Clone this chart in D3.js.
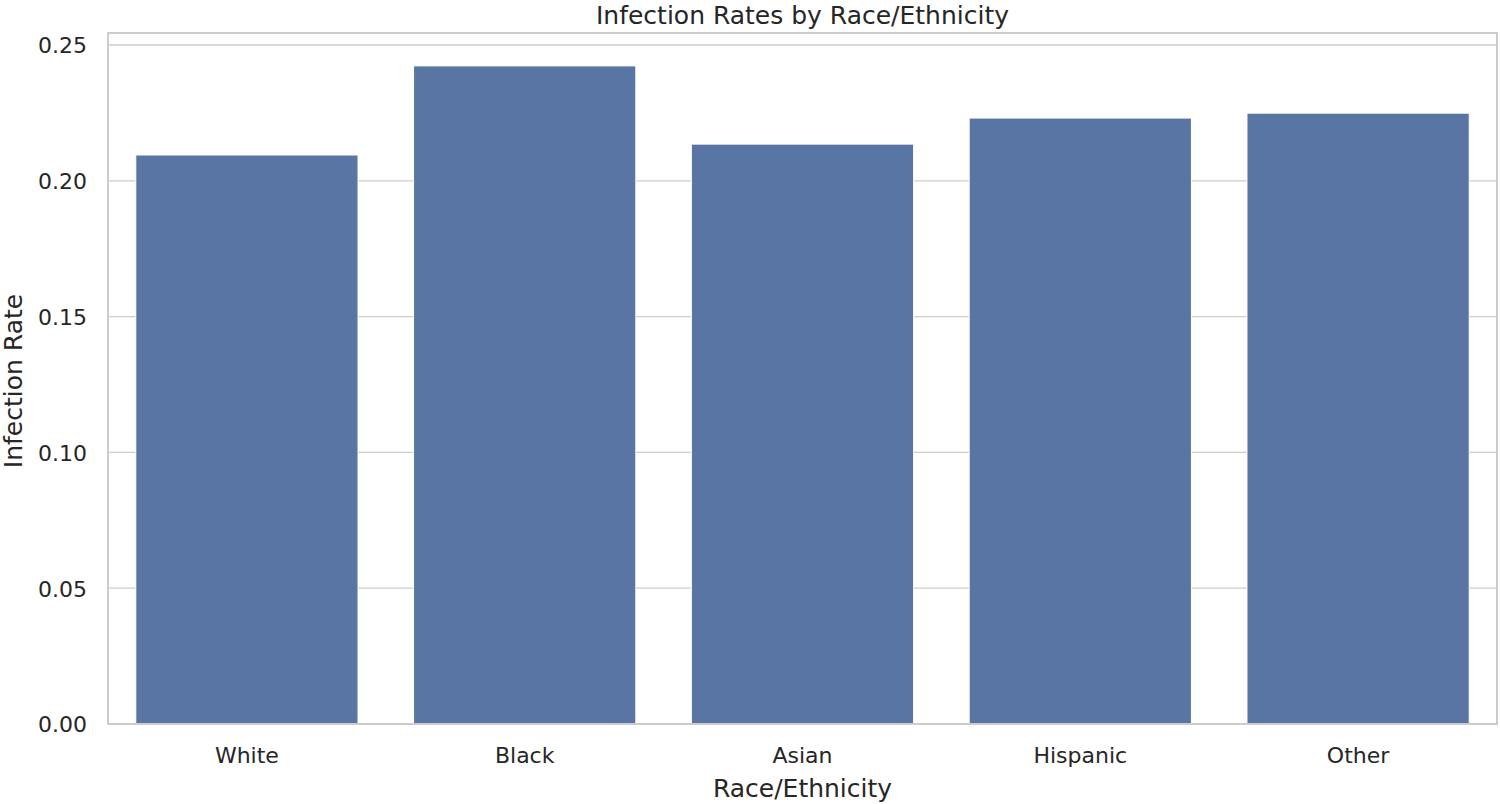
<!DOCTYPE html>
<html>
<head>
<meta charset="utf-8">
<script src="https://cdn.jsdelivr.net/npm/d3@7"></script>
<style>
  body { margin: 0; background: #fff; overflow: hidden; }
  text { font-family: "DejaVu Sans", sans-serif; fill: #262626; }
</style>
</head>
<body>
<div class="canvas"></div>
<script>
// data
const groups = ['White', 'Black', 'Asian', 'Hispanic', 'Other'];
const rates = [0.2095, 0.2423, 0.2135, 0.2231, 0.2249];
const yTicks = [0, 0.05, 0.10, 0.15, 0.20, 0.25];

const width = 1500, height = 804;
const margin = { top: 33, right: 3, bottom: 80, left: 108 };
const graphWidth = width - margin.left - margin.right;
const graphHeight = height - margin.top - margin.bottom;

const svg = d3.select('.canvas')
    .append('svg')
    .attr('width', width)
    .attr('height', height);

const graph = svg.append('g')
    .attr('transform', `translate(${margin.left}, ${margin.top})`);

// scales
const x = d3.scaleBand()
    .domain(groups)
    .range([0, graphWidth])
    .paddingInner(0.2)
    .paddingOuter(0.1);

const y = d3.scaleLinear()
    .domain([0, d3.max(rates) * 1.05])
    .range([graphHeight, 0]);

// grid lines
graph.append('g')
    .selectAll('line')
    .data(yTicks)
    .join('line')
    .attr('x1', 0)
    .attr('x2', graphWidth)
    .attr('y1', d => y(d))
    .attr('y2', d => y(d))
    .attr('stroke', '#cccccc')
    .attr('stroke-width', 1.3);

// bars
graph.selectAll('rect.bar')
    .data(rates)
    .join('rect')
    .attr('class', 'bar')
    .attr('x', (d, i) => x(groups[i]))
    .attr('width', x.bandwidth())
    .attr('y', d => y(d))
    .attr('height', d => graphHeight - y(d))
    .attr('fill', '#5875a4')
    .attr('stroke', '#ffffff')
    .attr('stroke-width', 1);

// frame
graph.append('rect')
    .attr('width', graphWidth)
    .attr('height', graphHeight)
    .attr('fill', 'none')
    .attr('stroke', '#cccccc')
    .attr('stroke-width', 2);

// axes
const yAxis = d3.axisLeft(y)
    .tickValues(yTicks)
    .tickSize(0)
    .tickPadding(21)
    .tickFormat(d3.format('.2f'));
const yAxisGroup = graph.append('g').call(yAxis);
yAxisGroup.select('.domain').remove();
yAxisGroup.selectAll('text')
    .attr('font-size', 22)
    .attr('dy', '0.36em')
    .style('fill', '#262626');

const xAxis = d3.axisBottom(x).tickSize(0);
const xAxisGroup = graph.append('g')
    .attr('transform', `translate(0, ${graphHeight})`)
    .call(xAxis);
xAxisGroup.select('.domain').remove();
xAxisGroup.selectAll('text')
    .attr('font-size', 22)
    .attr('dy', null)
    .attr('y', 39)
    .style('fill', '#262626');

// labels
svg.append('text')
    .attr('x', margin.left + graphWidth / 2)
    .attr('y', 24)
    .attr('text-anchor', 'middle')
    .attr('font-size', 25)
    .text('Infection Rates by Race/Ethnicity');

svg.append('text')
    .attr('x', margin.left + graphWidth / 2)
    .attr('y', 797)
    .attr('text-anchor', 'middle')
    .attr('font-size', 25)
    .text('Race/Ethnicity');

svg.append('text')
    .attr('transform', `translate(22, 381) rotate(-90)`)
    .attr('text-anchor', 'middle')
    .attr('font-size', 25)
    .text('Infection Rate');
</script>
</body>
</html>
